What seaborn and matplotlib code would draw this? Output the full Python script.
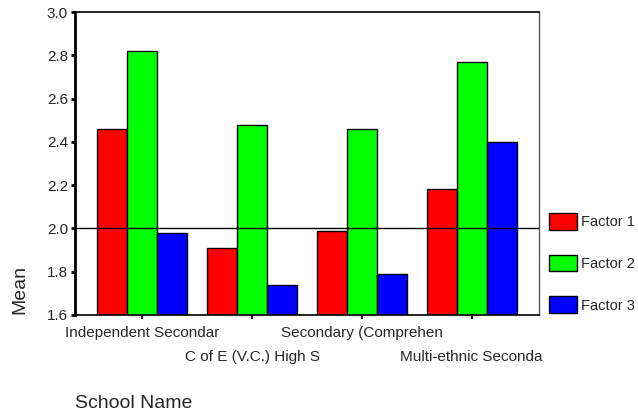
import pandas as pd
import matplotlib
matplotlib.use('Agg')
import matplotlib.pyplot as plt
import seaborn as sns

schools = ['Independent Secondar', 'C of E (V.C.) High S',
           'Secondary (Comprehen', 'Multi-ethnic Seconda']
factors = ['Factor 1', 'Factor 2', 'Factor 3']
factor1 = [2.46, 1.91, 1.99, 2.18]
factor2 = [2.82, 2.48, 2.46, 2.77]
factor3 = [1.98, 1.74, 1.79, 2.40]
colors = ['#ff0000', '#00ff00', '#0000ff']

df = pd.DataFrame({
    'School': schools * 3,
    'Factor': [f for f in factors for _ in schools],
    'Mean': factor1 + factor2 + factor3,
})

sns.set_style('white')
plt.rcParams['font.family'] = ['Liberation Sans', 'DejaVu Sans']

fig = plt.figure(figsize=(6.38, 4.17), dpi=100)
ax = fig.add_axes([75 / 638, 1 - 315 / 417, 464 / 638, 303 / 417])

sns.barplot(data=df, x='School', y='Mean', hue='Factor', palette=colors,
            width=0.82, gap=0, edgecolor='black', linewidth=1,
            saturation=1, ax=ax)

ax.set_ylim(1.6, 3.0)
ax.set_xlim(-0.615, 3.615)
ax.set_yticks([1.6, 1.8, 2.0, 2.2, 2.4, 2.6, 2.8, 3.0])
ax.set_yticklabels(['1.6', '1.8', '2.0', '2.2', '2.4', '2.6', '2.8', '3.0'], fontsize=11)
ax.axhline(2.0, color='black', linewidth=1, zorder=5)

ax.set_xticks(range(len(schools)))
ax.set_xticklabels(schools, fontsize=11)
ax.tick_params(axis='x', length=3, width=1.5, color='black', direction='out', bottom=True)
ax.tick_params(axis='y', length=3, width=2, pad=2, color='black', direction='out', left=True)
# alternate the category labels on two rows
for i, tick in enumerate(ax.xaxis.get_major_ticks()):
    tick.set_pad(5 if i % 2 == 0 else 22)

for side in ['left', 'bottom', 'top']:
    ax.spines[side].set_color('black')
    ax.spines[side].set_linewidth(1.2)
ax.spines['left'].set_linewidth(2)
ax.spines['right'].set_color('#555555')
ax.spines['right'].set_linewidth(1)

ax.set_xlabel('')
ax.set_ylabel('')
fig.text(20 / 638, 1 - 290 / 417, 'Mean', rotation=90, fontsize=14,
         ha='center', va='center')
fig.text(75 / 638, 1 - 404 / 417, 'School Name', fontsize=14,
         ha='left', va='center')

leg = ax.legend(loc='upper left', bbox_to_anchor=(549 / 638, 1 - 213 / 417),
                bbox_transform=fig.transFigure, frameon=False, fontsize=10.5,
                handlelength=1.9, handleheight=1.4, labelspacing=1.7,
                handletextpad=0.3, borderpad=0, borderaxespad=0)
for h in leg.legend_handles:
    h.set_edgecolor('black')
    h.set_linewidth(1)

fig.savefig('out.png', dpi=100)
